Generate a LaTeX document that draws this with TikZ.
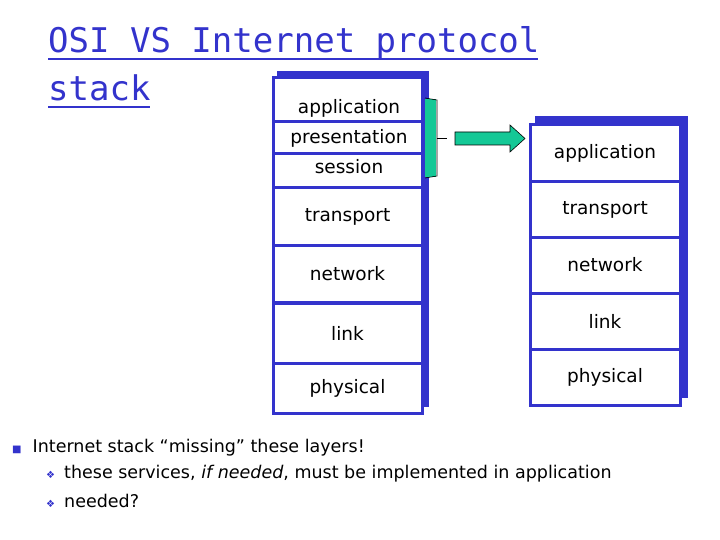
\documentclass[tikz,border=0pt]{standalone}
\usepackage{fontspec}
\setmainfont{DejaVu Sans}
\newfontfamily\titlefont{DejaVu Sans Mono}
\usetikzlibrary{decorations.pathreplacing}
\definecolor{lblue}{RGB}{51,51,204}
\definecolor{lgreen}{RGB}{20,200,150}
\begin{document}
\begin{tikzpicture}[x=1pt,y=-1pt,
  lay/.style={draw=lblue,line width=3pt,fill=white,inner sep=0pt,font=\fontsize{18.5}{20}\selectfont},
  txt/.style={font=\fontsize{18.5}{20}\selectfont},
  shadow/.style={fill=lblue,draw=none}]
\useasboundingbox (0,0) rectangle (720,540);
% title
\node[anchor=base west,inner sep=0pt,text=lblue,font=\titlefont\fontsize{34}{36}\selectfont] (title) at (48,53) {OSI VS Internet protocol};
\node[anchor=base west,inner sep=0pt,text=lblue,font=\titlefont\fontsize{34}{36}\selectfont] (title2) at (48,101) {stack};
\draw[lblue,line width=1.5pt] (48,59) -- (538,59);
\draw[lblue,line width=1.5pt] (48,107) -- (150,107);
% left stack
\fill[shadow] (277,71) rectangle (429,407);
\node[lay,minimum width=149,minimum height=110] (sess) at (347.5,133) {};
\node[txt] (a1) at (349,108) {application};
\node[txt] (p1) at (349,138) {presentation};
\node[txt] (s1) at (349,167) {session};
\draw[lblue,line width=3pt] (273,122) -- (422,122) (273,154) -- (422,154);
\node[lay,minimum width=149,minimum height=57] (t1) at (347.5,216.5) {transport};
\node[lay,minimum width=149,minimum height=57] (n1) at (347.5,274) {network};
\node[lay,minimum width=149,minimum height=60] (l1) at (347.5,333) {link};
\node[lay,minimum width=149,minimum height=50] (ph1) at (347.5,388) {physical};
% right stack
\fill[shadow] (535,116) rectangle (688,398);
\node[lay,minimum width=150,minimum height=57] (a2) at (605,153.5) {application};
\node[lay,minimum width=150,minimum height=55] (t2) at (605,209.5) {transport};
\node[lay,minimum width=150,minimum height=56] (n2) at (605,265) {network};
\node[lay,minimum width=150,minimum height=56] (l2) at (605,321) {link};
\node[lay,minimum width=150,minimum height=56] (ph2) at (605,377) {physical};
% brace and arrow
\fill[lgreen] (425,99) rectangle (436,177);
\draw[black,line width=0.6pt] (425,98) -- (437,100) -- (437,176) -- (425,178);
\coordinate (bt) at (437,138);
\coordinate (bt2) at (447,138);
\draw[black,line width=0.8pt] (bt) -- (bt2);
\draw[fill=lgreen,draw=black,line width=0.6pt] (455,132) -- (510,132) -- (510,125) -- (525,138.5) -- (510,152) -- (510,145) -- (455,145) -- cycle;
% bullets
\node[anchor=west,inner sep=0pt,font=\fontsize{17.5}{20}\selectfont] (b1) at (12,448) {\textcolor{lblue}{\fontsize{10}{10}\selectfont■}\hspace{11pt}Internet stack “missing” these layers!};
\node[anchor=west,inner sep=0pt,font=\fontsize{17.5}{20}\selectfont] (b2) at (46,474) {\textcolor{lblue}{\fontsize{10}{10}\selectfont❖}\hspace{9pt}these services, \textit{if needed}, must be implemented in application};
\node[anchor=west,inner sep=0pt,font=\fontsize{17.5}{20}\selectfont] (b3) at (46,501) {\textcolor{lblue}{\fontsize{10}{10}\selectfont❖}\hspace{9pt}needed?};
\end{tikzpicture}
\end{document}
